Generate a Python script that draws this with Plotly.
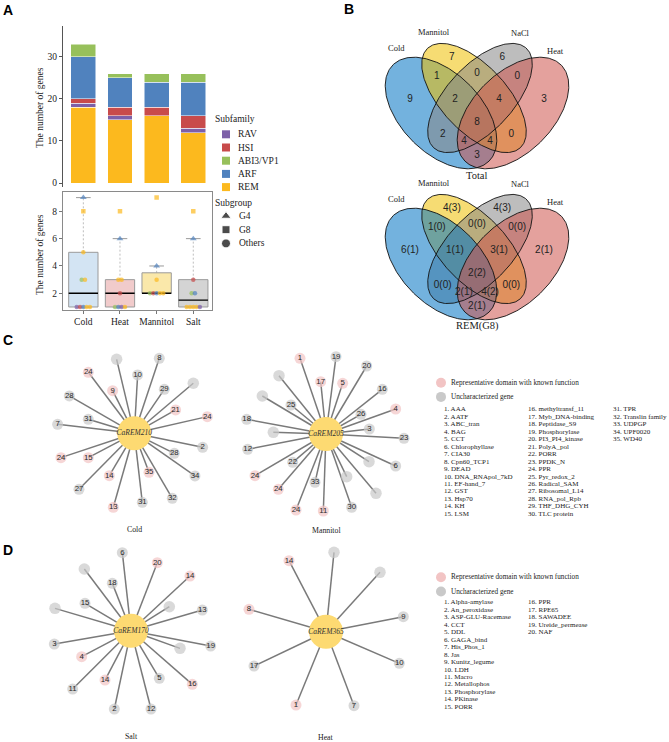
import numpy as np
import plotly.graph_objects as go

W, H = 669, 742
SERIF = "Liberation Serif"
SANS = "Liberation Sans"
TXT = "#222222"

# ======================= DATA =======================
CONDITIONS = ["Cold", "Heat", "Mannitol", "Salt"]
STACK_ORDER = ["REM", "RAV", "HSI", "ARF", "ABI3/VP1"]
LEGEND_ORDER = ["RAV", "HSI", "ABI3/VP1", "ARF", "REM"]
REM = [18, 15, 16, 12]
RAV = [1, 1, 0, 1]
HSI = [1, 2, 2, 3]
ARF = [10, 7, 6, 8]
ABI3_VP1 = [3, 1, 2, 2]
BAR_YTICKS = [0, 10, 20, 30]

BOX_Q1 = [1, 1, 2, 1]
BOX_MEDIAN = [2, 2, 2, 1.5]
BOX_Q3 = [5, 3, 3.5, 3]
BOX_LOW = [1, 1, 2, 1]
BOX_HIGH = [9, 6, 4, 6]
BOX_YTICKS = [2, 4, 6, 8]

PT_COND = ["Cold"] * 10 + ["Heat"] * 9 + ["Mannitol"] * 8 + ["Salt"] * 10
PT_VALUE = [9, 8, 5, 3, 3, 1, 1, 1, 1, 1,
            8, 6, 3, 3, 2, 1, 1, 1, 1,
            9, 4, 3, 2, 2, 2, 2, 2,
            8, 6, 3, 2, 2, 1, 1, 1, 1, 1]
PT_SUBFAMILY = ["ARF", "REM", "REM", "ABI3/VP1", "REM", "RAV", "HSI", "ARF", "REM", "REM",
                "REM", "ARF", "REM", "REM", "HSI", "ABI3/VP1", "ARF", "RAV", "REM",
                "REM", "ARF", "REM", "ABI3/VP1", "HSI", "ARF", "REM", "REM",
                "REM", "ARF", "HSI", "ABI3/VP1", "ARF", "REM", "REM", "REM", "REM", "RAV"]
PT_SUBGROUP = (["G4", "G8"] + ["Others"] * 8 +
               ["G8", "G4"] + ["Others"] * 7 +
               ["G8", "G4"] + ["Others"] * 6 +
               ["G8", "G4"] + ["Others"] * 8)
SUBGROUPS = ["G4", "G8", "Others"]

VENN_SETS = ["Cold", "Mannitol", "NaCl", "Heat"]
VENN_REGIONS = ["1000", "0100", "0010", "0001", "1100", "0110", "0011", "1010",
                "0101", "1001", "1110", "0111", "1011", "1101", "1111"]
TOTAL_COUNTS = [9, 7, 6, 3, 1, 0, 0, 2, 0, 3, 2, 4, 4, 4, 8]
REM_COUNTS = [6, 4, 4, 2, 1, 0, 0, 0, 0, 2, 1, 3, 2, 4, 2]
REM_G8_COUNTS = [1, 3, 3, 1, 0, 0, 0, 0, 0, 1, 1, 1, 1, 2, 2]
VENN_TITLES = ["Total", "REM(G8)"]

NET_HUBS = ["CaREM210", "CaREM205", "CaREM170", "CaREM365"]
NET_CAPTIONS = ["Cold", "Mannitol", "Salt", "Heat"]
NET_LABELS = [
    [None, "8", "10", "24", "9", "29", None, "28", "21", "24", "31", "7", "2", "28",
     "24", "15", "35", "34", "14", "27", "13", "31", "32"],
    ["1", "19", "20", None, "17", "5", "16", None, "25", "26", "4", "18", None, "3",
     "23", "12", "22", None, "6", "24", "33", None, "24", None, "24", "11", "30"],
    ["6", "20", None, "14", "18", "15", None, None, "13", "3", None, "19", "4", "14",
     "5", "16", "11", "2", "12"],
    ["14", None, None, "8", "9", "17", "10", "1", "7"],
]
NET_KNOWN = [
    [0, 0, 0, 1, 1, 0, 0, 0, 1, 1, 0, 0, 0, 0, 1, 1, 1, 0, 1, 0, 1, 0, 0],
    [1, 0, 0, 0, 1, 1, 0, 0, 0, 0, 1, 0, 0, 0, 0, 0, 0, 0, 0, 1, 0, 0, 1, 0, 1, 1, 0],
    [0, 1, 0, 1, 0, 0, 0, 0, 0, 0, 0, 0, 1, 1, 0, 1, 0, 0, 0],
    [1, 0, 0, 1, 0, 0, 0, 1, 0],
]

C_DOMAINS = ["AAA", "AATF", "ABC_tran", "BAG", "CCT", "Chlorophyllase", "CIA30",
             "Cpn60_TCP1", "DEAD", "DNA_RNApol_7kD", "EF-hand_7", "GST", "Hsp70", "KH",
             "LSM", "methyltransf_11", "Myb_DNA-binding", "Peptidase_S9", "Phosphorylase",
             "PI3_PI4_kinase", "PolyA_pol", "PORR", "PPDK_N", "PPR", "Pyr_redox_2",
             "Radical_SAM", "Ribosomal_L14", "RNA_pol_Rpb", "THF_DHG_CYH", "TLC protein",
             "TPR", "Translin family", "UDPGP", "UPF0020", "WD40"]
D_DOMAINS = ["Alpha-amylase", "An_peroxidase", "ASP-GLU-Racemase", "CCT", "DDL",
             "GAGA_bind", "His_Phos_1", "Jas", "Kunitz_legume", "LDH", "Macro",
             "Metallophos", "Phosphorylase", "PKinase", "PORR", "PPR", "RPE65",
             "SAWADEE", "Ureide_permease", "NAF"]
LEGEND_KNOWN = "Representative domain with known function"
LEGEND_UNKNOWN = "Uncharacterized gene"

# ======================= STYLE / LAYOUT =======================
SUBFAM_COLORS = {"REM": "#FCB91E", "RAV": "#7D60A8", "HSI": "#C84B4B",
                 "ARF": "#5082BE", "ABI3/VP1": "#97C05B"}
BOX_FILL = ["#D3E4F3", "#F1CBCB", "#FAE8AA", "#D4D4D4"]
SUBGROUP_SYMBOL = {"G4": "triangle-up", "G8": "square", "Others": "circle"}
VENN_FILL = [(0, 115, 194), (239, 192, 0), (134, 134, 134), (205, 83, 76)]
VENN_ALPHA = 0.55
# ellipse layout in canvas pixels (cx, cy, semi-major, semi-minor, major-axis angle, y down)
VENN_SHAPES = [(441, 113, 68, 40, 45), (474, 98, 68, 33, 47),
               (480, 98, 68, 33, 133), (513, 113, 68, 40, 135)]
VENN_DRAW_ORDER = [[0, 1, 2, 3], [1, 2, 0, 3]]
VENN_CX = 477
VENN_SHIFT = [0, 151]
VENN_TITLE_Y = 175
VENN_NAME_OFFSET = [(4, -17), (6, -16), (-6, -15), (-6, -14)]
NET_CENTERS = [(134.3, 433.3), (326, 434), (131, 630.7), (326, 631.7)]
NET_CAPTION_Y = [529, 530, 736, 737]
NET_UNIT = 1 / 3.0
NET_OFFSETS = [
    [(-53, -222), (75, -225), (10, -175), (-138, -183), (-65, -128), (90, -132), (177, -150),
     (-195, -112), (124, -70), (219, -50), (-138, -42), (-230, -27), (205, 42), (120, 60),
     (-220, 73), (-138, 73), (44, 117), (182, 128), (-75, 127), (-166, 168), (-63, 222),
     (24, 207), (114, 195)],
    [(-78, -227), (30, -232), (122, -204), (-141, -175), (-16, -157), (50, -152), (169, -134),
     (-191, -114), (-105, -87), (105, -59), (209, -75), (-238, -44), (-158, -5), (130, -15),
     (234, 13), (-235, 46), (-100, 85), (129, 83), (209, 96), (-213, 125), (-33, 145),
     (62, 128), (-143, 166), (150, 178), (-90, 228), (-8, 231), (77, 220)],
    [(-26, -234), (79, -204), (-140, -185), (177, -164), (-56, -142), (-138, -82), (-228, -67),
     (115, -72), (214, -62), (-230, 40), (147, 53), (239, 46), (-148, 78), (-78, 148),
     (85, 143), (184, 161), (-175, 175), (-50, 235), (60, 235)],
    [(-111, -213), (24, -238), (162, -178), (-231, -67), (232, -45), (-216, 103), (220, 95),
     (-90, 220), (84, 222)],
]
PINK = "#F2C4C4"
GREY = "#C9C9C9"
HUB = "#FDDA72"

fig = go.Figure()


def cv(**kw):
    kw.setdefault("showlegend", False)
    kw.setdefault("hoverinfo", "skip")
    return dict(xaxis="x3", yaxis="y3", **kw)


# ---------------- Panel A: stacked bars ----------------
series = {"REM": REM, "RAV": RAV, "HSI": HSI, "ARF": ARF, "ABI3/VP1": ABI3_VP1}
xpos = list(range(len(CONDITIONS)))
for name in STACK_ORDER:
    fig.add_trace(go.Bar(x=xpos, y=series[name], width=0.68, name=name,
                         marker=dict(color=SUBFAM_COLORS[name], line=dict(color="white", width=0.5)),
                         showlegend=False, xaxis="x", yaxis="y"))

# ---------------- Panel A: box plot ----------------
for i in range(len(CONDITIONS)):
    x0, x1 = i - 0.4, i + 0.4
    fig.add_trace(go.Scatter(x=[i, i, None, i, i], y=[BOX_Q3[i], BOX_HIGH[i], None, BOX_LOW[i], BOX_Q1[i]],
                             mode="lines", line=dict(color="#BDBDBD", width=1, dash="2px,2px"),
                             showlegend=False, hoverinfo="skip", xaxis="x2", yaxis="y2"))
    fig.add_trace(go.Scatter(x=[i - 0.2, i + 0.2, None, i - 0.2, i + 0.2],
                             y=[BOX_HIGH[i], BOX_HIGH[i], None, BOX_LOW[i], BOX_LOW[i]],
                             mode="lines", line=dict(color="#9A9A9A", width=1),
                             showlegend=False, hoverinfo="skip", xaxis="x2", yaxis="y2"))
    fig.add_trace(go.Scatter(x=[x0, x1, x1, x0, x0],
                             y=[BOX_Q1[i], BOX_Q1[i], BOX_Q3[i], BOX_Q3[i], BOX_Q1[i]],
                             mode="lines", fill="toself", fillcolor=BOX_FILL[i],
                             line=dict(color="#9A9A9A", width=1),
                             showlegend=False, hoverinfo="skip", xaxis="x2", yaxis="y2"))
    fig.add_trace(go.Scatter(x=[x0, x1], y=[BOX_MEDIAN[i]] * 2, mode="lines",
                             line=dict(color="black", width=1.4),
                             showlegend=False, hoverinfo="skip", xaxis="x2", yaxis="y2"))

# jittered points (evenly spread within identical values)
groups = {}
for k, (c, v) in enumerate(zip(PT_COND, PT_VALUE)):
    groups.setdefault((c, v), []).append(k)
pt_x = [0.0] * len(PT_VALUE)
for (c, v), idx in groups.items():
    n = len(idx)
    for j, k in enumerate(idx):
        pt_x[k] = CONDITIONS.index(c) + (j - (n - 1) / 2) * 0.09
fig.add_trace(go.Scatter(
    x=pt_x, y=PT_VALUE, mode="markers",
    marker=dict(color=[SUBFAM_COLORS[s] for s in PT_SUBFAMILY],
                symbol=[SUBGROUP_SYMBOL[g] for g in PT_SUBGROUP],
                size=[6 if g == "G4" else 4.5 for g in PT_SUBGROUP], line=dict(width=0)),
    showlegend=False, hoverinfo="skip", xaxis="x2", yaxis="y2"))

# ---------------- Panel A legends (manual) ----------------
shapes = []
annotations = []
annotations.append(dict(x=213, y=119, text="Subfamily", xanchor="left", yanchor="middle",
                        font=dict(family=SERIF, size=9.5, color=TXT), showarrow=False, xref="x3", yref="y3"))
for k, name in enumerate(LEGEND_ORDER):
    yy = 134.3 + k * 13.2
    shapes.append(dict(type="rect", xref="x3", yref="y3", x0=222, x1=230, y0=yy - 4, y1=yy + 4,
                       fillcolor=SUBFAM_COLORS[name], line=dict(width=0)))
    annotations.append(dict(x=236, y=yy, text=name, xanchor="left", yanchor="middle",
                            font=dict(family=SERIF, size=9.5, color=TXT), showarrow=False,
                            xref="x3", yref="y3"))
annotations.append(dict(x=213, y=202.7, text="Subgroup", xanchor="left", yanchor="middle",
                        font=dict(family=SERIF, size=9.5, color=TXT), showarrow=False, xref="x3", yref="y3"))
sg_y = [216 + k * 13.7 for k in range(len(SUBGROUPS))]
fig.add_trace(go.Scatter(**cv(x=[226] * len(SUBGROUPS), y=sg_y, mode="markers",
                              marker=dict(color="black", symbol=[SUBGROUP_SYMBOL[g] for g in SUBGROUPS],
                                          size=[9, 8, 9]))))
for g, yy in zip(SUBGROUPS, sg_y):
    annotations.append(dict(x=236.7, y=yy, text=g, xanchor="left", yanchor="middle",
                            font=dict(family=SERIF, size=9.5, color=TXT), showarrow=False,
                            xref="x3", yref="y3"))
for yy in (108, 255):
    annotations.append(dict(x=40, y=yy, text="The number of genes", textangle=-90,
                            font=dict(family=SERIF, size=9.5, color=TXT), showarrow=False,
                            xref="x3", yref="y3"))

# ---------------- Panel B: Venn diagrams ----------------
def ell_pts(cx, cy, a, b, ang, n=240):
    t = np.linspace(0, 2 * np.pi, n)
    th = np.radians(ang)
    x = cx + a * np.cos(t) * np.cos(th) - b * np.sin(t) * np.sin(th)
    y = cy + a * np.cos(t) * np.sin(th) + b * np.sin(t) * np.cos(th)
    return x, y


def inside(cx, cy, a, b, ang, X, Y):
    th = np.radians(ang)
    dx, dy = X - cx, Y - cy
    u = dx * np.cos(th) + dy * np.sin(th)
    v = -dx * np.sin(th) + dy * np.cos(th)
    return (u / a) ** 2 + (v / b) ** 2 < 1


# region label anchors: blend of the region's deepest point and its centroid
gx = np.linspace(380, 580, 201)
gy = np.linspace(35, 175, 141)
GX, GY = np.meshgrid(gx, gy)
GXr, GYr = GX.ravel(), GY.ravel()
memb = np.array([inside(*e, GXr, GYr) for e in VENN_SHAPES])
bpts = [ell_pts(*e) for e in VENN_SHAPES]
bx = np.concatenate([p[0] for p in bpts]).astype(np.float32)
by = np.concatenate([p[1] for p in bpts]).astype(np.float32)
dist = np.empty(GXr.size, dtype=np.float32)
for s in range(0, GXr.size, 3000):
    dxx = GXr[s:s + 3000, None].astype(np.float32) - bx[None, :]
    dyy = GYr[s:s + 3000, None].astype(np.float32) - by[None, :]
    dist[s:s + 3000] = np.sqrt(dxx ** 2 + dyy ** 2).min(axis=1)
region_xy = []
for code in VENN_REGIONS:
    mask = np.ones(GXr.size, dtype=bool)
    for k, ch in enumerate(code):
        mask &= memb[k] if ch == "1" else ~memb[k]
    d = np.where(mask, dist, -1)
    j = int(np.argmax(d))
    # keep to the thick part of the region when averaging
    core = mask & (dist > 0.55 * d[j])
    cx_, cy_ = GXr[core].mean(), GYr[core].mean()
    region_xy.append((0.5 * (GXr[j] + cx_), 0.5 * (GYr[j] + cy_)))

venn_texts = [[str(v) for v in TOTAL_COUNTS],
              [f"{a}({b})" for a, b in zip(REM_COUNTS, REM_G8_COUNTS)]]
for vi, shift in enumerate(VENN_SHIFT):
    for k in VENN_DRAW_ORDER[vi]:
        px, py = bpts[k]
        r, g, b = VENN_FILL[k]
        fig.add_trace(go.Scatter(**cv(x=px, y=py + shift, mode="lines", fill="toself",
                                      fillcolor=f"rgba({r},{g},{b},{VENN_ALPHA})",
                                      line=dict(width=0, color="rgba(0,0,0,0)"))))
    for k in range(4):
        px, py = bpts[k]
        fig.add_trace(go.Scatter(**cv(x=px, y=py + shift, mode="lines",
                                      line=dict(color="#111111", width=0.9))))
    fig.add_trace(go.Scatter(**cv(x=[p[0] for p in region_xy], y=[p[1] + shift for p in region_xy],
                                  mode="text", text=venn_texts[vi],
                                  textfont=dict(family=SANS, size=10, color=TXT))))
    # set names beyond the upper tip of each ellipse's major axis
    for k, (cx, cy, a, b, ang) in enumerate(VENN_SHAPES):
        th = np.radians(ang)
        tx, ty = cx - a * np.cos(th), cy - a * np.sin(th)
        annotations.append(dict(x=tx + VENN_NAME_OFFSET[k][0], y=ty + VENN_NAME_OFFSET[k][1] + shift,
                                text=VENN_SETS[k], font=dict(family=SERIF, size=8.5, color=TXT),
                                showarrow=False, xref="x3", yref="y3"))
    annotations.append(dict(x=VENN_CX, y=VENN_TITLE_Y + shift, text=VENN_TITLES[vi],
                            font=dict(family=SERIF, size=10.5, color=TXT),
                            showarrow=False, xref="x3", yref="y3"))

# ---------------- Panels C & D: networks ----------------
for n in range(len(NET_HUBS)):
    hx, hy = NET_CENTERS[n]
    lx = [hx + dx * NET_UNIT for dx, dy in NET_OFFSETS[n]]
    ly = [hy + dy * NET_UNIT for dx, dy in NET_OFFSETS[n]]
    ex, ey = [], []
    for x, y in zip(lx, ly):
        ex += [hx, x, None]
        ey += [hy, y, None]
    fig.add_trace(go.Scatter(**cv(x=ex, y=ey, mode="lines", line=dict(color="#7A7A7A", width=1.5))))
    fig.add_trace(go.Scatter(**cv(
        x=lx, y=ly, mode="markers+text",
        text=[t if t else "" for t in NET_LABELS[n]], textposition="middle center",
        textfont=dict(family=SANS, size=7.8, color="#2a2a2a"),
        marker=dict(color=[PINK if kn else GREY for kn in NET_KNOWN[n]],
                    size=[11 if t else 11.5 for t in NET_LABELS[n]], line=dict(width=0)))))
    fig.add_trace(go.Scatter(**cv(x=[hx], y=[hy], mode="markers+text", text=[f"<i>{NET_HUBS[n]}</i>"],
                                  textposition="middle center",
                                  textfont=dict(family=SERIF, size=7.5, color="#333333"),
                                  marker=dict(color=HUB, size=34, line=dict(width=0)))))
    annotations.append(dict(x=hx, y=NET_CAPTION_Y[n], text=NET_CAPTIONS[n],
                            font=dict(family=SERIF, size=7.8, color=TXT),
                            showarrow=False, xref="x3", yref="y3"))

# network legends and domain lists
for (ly0, names, col_x, y0) in [(382.7, C_DOMAINS, [442, 526, 610.7], 409.3),
                                 (577.3, D_DOMAINS, [442, 526], 602.3)]:
    fig.add_trace(go.Scatter(**cv(x=[441, 441], y=[ly0, ly0 + 14.2], mode="markers",
                                  marker=dict(color=[PINK, GREY], size=10, line=dict(width=0)))))
    for k, txt in enumerate([LEGEND_KNOWN, LEGEND_UNKNOWN]):
        annotations.append(dict(x=448.5, y=ly0 + k * 14.2, text=txt, xanchor="left", yanchor="middle",
                                font=dict(family=SERIF, size=7.2, color=TXT), showarrow=False,
                                xref="x3", yref="y3"))
    for k, nm in enumerate(names):
        col, row = divmod(k, 15)
        annotations.append(dict(x=col_x[col], y=y0 + row * 7.47, text=f"{k + 1}. {nm}",
                                xanchor="left", yanchor="middle",
                                font=dict(family=SERIF, size=7, color=TXT), showarrow=False,
                                xref="x3", yref="y3"))

# panel letters
for lab, x, y in [("A", 7.5, 10), ("B", 349, 8.5), ("C", 8, 340), ("D", 8, 550)]:
    annotations.append(dict(x=x, y=y, text=f"<b>{lab}</b>", font=dict(family=SANS, size=14, color="black"),
                            showarrow=False, xref="x3", yref="y3"))

# ---------------- axes ----------------
xdom = [63 / W, 211.6 / W]
xr = [-0.555, 3.5]
tickfont = dict(family=SERIF, size=9.5, color=TXT)
fig.update_layout(
    width=W, height=H, margin=dict(l=0, r=0, t=0, b=0),
    paper_bgcolor="white", plot_bgcolor="rgba(0,0,0,0)",
    barmode="stack", showlegend=False,
    xaxis=dict(domain=xdom, range=xr, visible=False, anchor="y", fixedrange=True),
    yaxis=dict(domain=[1 - 187.3 / H, 1 - 26 / H], range=[-1, 37.3], anchor="x",
               tickvals=BAR_YTICKS, ticks="outside", ticklen=3, tickcolor="#555",
               showline=True, linecolor="#555", linewidth=1, showgrid=False, zeroline=False,
               tickfont=tickfont),
    xaxis2=dict(domain=xdom, range=xr, anchor="y2", tickvals=xpos, ticktext=CONDITIONS,
                ticks="outside", ticklen=3, tickcolor="#777", showline=True, mirror=True,
                linecolor="#8A8A8A", linewidth=1, showgrid=False, zeroline=False, tickfont=tickfont),
    yaxis2=dict(domain=[1 - 310 / H, 1 - 192 / H], range=[0.78, 9.41], anchor="x2",
                tickvals=BOX_YTICKS, ticks="outside", ticklen=3, tickcolor="#777",
                showline=True, mirror=True, linecolor="#8A8A8A", linewidth=1,
                showgrid=False, zeroline=False, tickfont=tickfont),
    xaxis3=dict(domain=[0, 1], range=[0, W], visible=False, anchor="y3", fixedrange=True),
    yaxis3=dict(domain=[0, 1], range=[H, 0], visible=False, anchor="x3", fixedrange=True),
    shapes=shapes, annotations=annotations,
)

fig.write_html("out.html", config={"displayModeBar": False},
               post_script="document.body.style.margin='0';document.body.style.overflow='hidden';")
